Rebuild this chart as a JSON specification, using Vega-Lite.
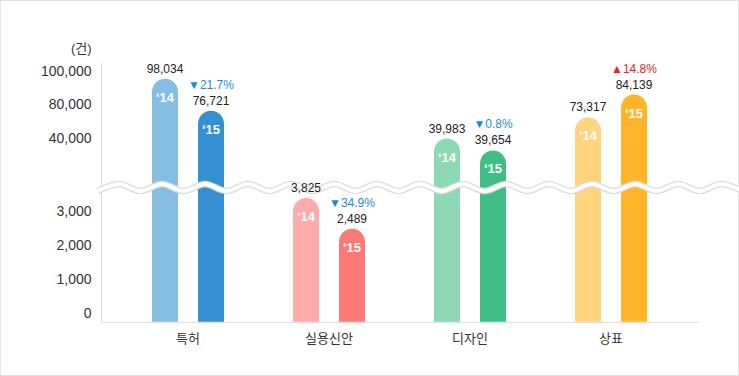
{
  "$schema": "https://vega.github.io/schema/vega-lite/v6.json",
  "width": 739,
  "height": 376,
  "autosize": "none",
  "padding": 0,
  "background": "#ffffff",
  "config": {"view": {"stroke": "#e3e3e3", "strokeWidth": 2}},
  "data": {"values": [
    {"cat": "특허", "year": "14", "label": "‘14", "value": 98034, "key": "특허14"},
    {"cat": "특허", "year": "15", "label": "‘15", "value": 76721, "key": "특허15", "change": "▼21.7%", "dir": "down"},
    {"cat": "실용신안", "year": "14", "label": "‘14", "value": 3825, "key": "실용신안14"},
    {"cat": "실용신안", "year": "15", "label": "‘15", "value": 2489, "key": "실용신안15", "change": "▼34.9%", "dir": "down"},
    {"cat": "디자인", "year": "14", "label": "‘14", "value": 39983, "key": "디자인14"},
    {"cat": "디자인", "year": "15", "label": "‘15", "value": 39654, "key": "디자인15", "change": "▼0.8%", "dir": "down"},
    {"cat": "상표", "year": "14", "label": "‘14", "value": 73317, "key": "상표14"},
    {"cat": "상표", "year": "15", "label": "‘15", "value": 84139, "key": "상표15", "change": "▲14.8%", "dir": "up"}
  ]},
  "resolve": {"scale": {"x": "independent", "y": "independent", "xOffset": "independent", "color": "independent"}},
  "layer": [
    {
      "mark": {"type": "bar", "cornerRadiusTopLeft": 13, "cornerRadiusTopRight": 13},
      "encoding": {
        "x": {"field": "cat", "type": "nominal", "sort": ["특허", "실용신안", "디자인", "상표"],
          "scale": {"type": "band", "range": [101, 698], "paddingInner": 0, "paddingOuter": 0.117},
          "axis": {"title": null, "offset": -54, "ticks": false, "labelPadding": 10, "labelAngle": 0,
            "domainColor": "#e0e0e0", "labelFont": "Noto Sans CJK KR", "labelFontSize": 13, "labelColor": "#333333"}},
        "xOffset": {"field": "year", "type": "nominal", "scale": {"type": "band", "paddingInner": 0.435, "paddingOuter": 0.75}},
        "y": {"field": "value", "type": "quantitative",
          "scale": {"domain": [-260, 0, 3000, 4000, 39500, 40000, 73000, 80000, 85000, 98000, 100000, 105500],
            "range": [321.7, 313, 211.5, 195, 156, 138, 118, 104.5, 92.5, 79, 71.5, 62], "nice": false, "zero": false},
          "axis": {"title": "(건)", "offset": -101, "values": [0, 1000, 2000, 3000, 40000, 80000, 100000],
            "labelExpr": "format(datum.value, ',')", "ticks": false, "grid": false, "labelPadding": 10, "domainColor": "#dddddd",
            "labelFont": "Liberation Sans", "labelFontSize": 14, "labelColor": "#333333",
            "titleAngle": 0, "titleX": -10, "titleY": 48, "titleAlign": "right", "titleBaseline": "middle",
            "titleFont": "Liberation Sans, Noto Sans CJK KR", "titleFontSize": 13, "titleFontWeight": "normal", "titleColor": "#333333"}},
        "y2": {"datum": -260},
        "color": {"field": "key", "type": "nominal", "legend": null,
          "scale": {"domain": ["특허14", "특허15", "실용신안14", "실용신안15", "디자인14", "디자인15", "상표14", "상표15"],
            "range": ["#86bde3", "#3490d1", "#ffabab", "#ff7878", "#8ed9b5", "#3fbf86", "#ffd47c", "#ffb42a"]}}
      }
    },
    {
      "data": {"values": [
        {"t": -1.5, "w": -1}, {"t": -1, "w": 1}, {"t": -0.5, "w": -1}, {"t": 0, "w": 1},
        {"t": 0.5, "w": -1}, {"t": 1, "w": 1}, {"t": 1.5, "w": -1}, {"t": 2, "w": 1},
        {"t": 2.5, "w": -1}, {"t": 3, "w": 1}, {"t": 3.5, "w": -1}, {"t": 4, "w": 1},
        {"t": 4.5, "w": -1}, {"t": 5, "w": 1}, {"t": 5.5, "w": -1}, {"t": 6, "w": 1},
        {"t": 6.5, "w": -1}, {"t": 7, "w": 1}, {"t": 7.5, "w": -1}, {"t": 8, "w": 1},
        {"t": 8.5, "w": -1}, {"t": 9, "w": 1}, {"t": 9.5, "w": -1}, {"t": 10, "w": 1},
        {"t": 10.5, "w": -1}, {"t": 11, "w": 1}, {"t": 11.5, "w": -1}, {"t": 12, "w": 1},
        {"t": 12.5, "w": -1}, {"t": 13, "w": 1}, {"t": 13.5, "w": -1}
      ]},
      "encoding": {
        "x": {"field": "t", "type": "quantitative", "axis": null, "scale": {"domain": [0, 10], "range": [162, 592], "nice": false, "zero": false}},
        "y": {"field": "w", "type": "quantitative", "axis": null, "scale": {"domain": [-1, 1], "range": [191, 184], "nice": false, "zero": false}}
      },
      "layer": [
        {"mark": {"type": "line", "interpolate": "monotone", "stroke": "#dcdcdc", "strokeWidth": 6.5}},
        {"mark": {"type": "line", "interpolate": "monotone", "stroke": "#ffffff", "strokeWidth": 4}}
      ]
    },
    {
      "encoding": {
        "x": {"field": "cat", "type": "nominal", "sort": ["특허", "실용신안", "디자인", "상표"],
          "scale": {"type": "band", "range": [101, 698], "paddingInner": 0, "paddingOuter": 0.117}, "axis": null},
        "xOffset": {"field": "year", "type": "nominal", "scale": {"type": "band", "paddingInner": 0.435, "paddingOuter": 0.75}},
        "y": {"field": "value", "type": "quantitative",
          "scale": {"domain": [-260, 0, 3000, 4000, 39500, 40000, 73000, 80000, 85000, 98000, 100000, 105500],
            "range": [321.7, 313, 211.5, 195, 156, 138, 118, 104.5, 92.5, 79, 71.5, 62], "nice": false, "zero": false},
          "axis": null}
      },
      "layer": [
        {"mark": {"type": "text", "dy": -10, "baseline": "middle", "font": "Liberation Sans", "fontSize": 12, "color": "#222222"},
          "encoding": {"text": {"field": "value", "type": "quantitative", "format": ","}}},
        {"mark": {"type": "text", "dy": 19, "baseline": "middle", "font": "Liberation Sans", "fontSize": 13, "fontWeight": "bold", "color": "#ffffff"},
          "encoding": {"text": {"field": "label"}}},
        {"transform": [{"filter": "datum.change != null"}],
          "mark": {"type": "text", "dy": -26, "baseline": "middle", "font": "Liberation Sans, DejaVu Sans", "fontSize": 12},
          "encoding": {"text": {"field": "change"},
            "color": {"field": "dir", "type": "nominal", "legend": null, "scale": {"domain": ["down", "up"], "range": ["#1f8bd6", "#e8202a"]}}}}
      ]
    }
  ]
}
